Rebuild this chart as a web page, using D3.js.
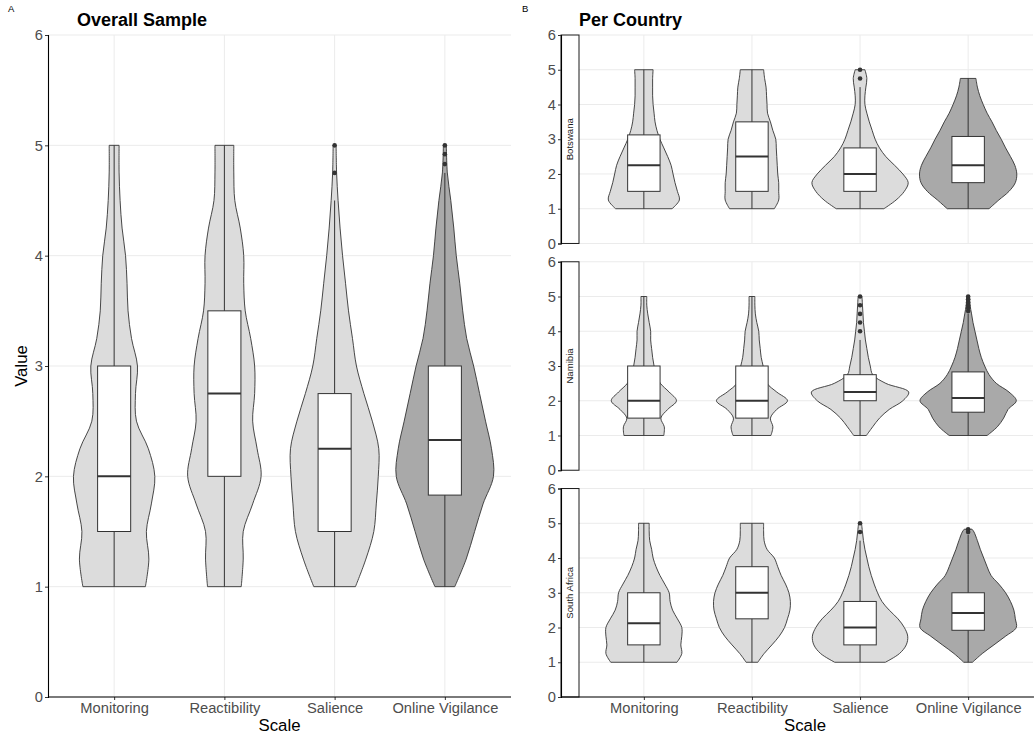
<!DOCTYPE html>
<html>
<head>
<meta charset="utf-8">
<script src="https://cdn.jsdelivr.net/npm/d3@7"></script>
<style>
  body { margin: 0; background: #fff; }
  svg { font-family: "Liberation Sans", Arial, sans-serif; }
</style>
</head>
<body>
<svg id="chart" width="1034" height="736"></svg>
<script>
const scales = ["Monitoring", "Reactibility", "Salience", "Online Vigilance"];
const countries = ["Botswana", "Namibia", "South Africa"];
const levels = [1, 1.25, 1.5, 1.75, 2, 2.25, 2.5, 2.75, 3, 3.25, 3.5, 3.75, 4, 4.25, 4.5, 4.75, 5];
const valueTicks = [0, 1, 2, 3, 4, 5, 6];

// relative violin width at each level (1 = widest violin in the panel)
const overallDensity = [
  [.63, .70, .65, .75, .82, .69, .45, .43, .47, .35, .28, .26, .23, .16, .12, .10, .10],
  [.34, .38, .38, .57, .74, .66, .57, .61, .61, .53, .42, .39, .39, .32, .21, .19, .19],
  [.42, .63, .79, .84, .88, .89, .76, .59, .44, .36, .28, .22, .16, .11, .07, .04, .03],
  [.20, .43, .60, .77, .98, .94, .82, .70, .58, .44, .36, .30, .23, .18, .12, .05, .03]
];
const botswanaDensity = [
  [.58, .73, .69, .64, .60, .56, .49, .41, .33, .27, .23, .21, .19, .18, .18, .18, .19],
  [.46, .55, .55, .55, .53, .52, .51, .50, .49, .43, .38, .32, .31, .30, .29, .26, .24],
  [.49, .74, .91, .99, .88, .71, .53, .40, .31, .25, .19, .14, .10, .10, .12, .14, .10],
  [.43, .63, .84, .97, 1.0, .96, .87, .77, .68, .58, .49, .39, .31, .24, .19, .16]
];
const namibiaDensity = [
  [.41, .42, .35, .49, .67, .52, .34, .25, .21, .18, .16, .14, .14, .11, .08, .06, .06],
  [.39, .43, .38, .51, .73, .51, .31, .26, .23, .19, .17, .15, .14, .10, .07, .06, .06],
  [.13, .26, .40, .60, .88, 1.0, .53, .26, .21, .17, .14, .11, .09, .07, .06, .05, .04],
  [.39, .60, .73, .82, .99, .84, .58, .43, .34, .27, .22, .18, .14, .10, .07, .04, .03]
];
const southAfricaDensity = [
  [.68, .78, .76, .78, .78, .69, .59, .54, .52, .43, .33, .25, .19, .16, .12, .11, .11],
  [.12, .25, .41, .56, .67, .73, .78, .79, .76, .69, .60, .53, .46, .31, .25, .24, .24],
  [.52, .81, .95, .98, .91, .78, .60, .45, .36, .29, .23, .18, .14, .10, .07, .05, .03],
  [.09, .29, .53, .77, .99, .97, .94, .87, .77, .63, .47, .39, .32, .25, .19, .12, .08]
];
// highest observed value per violin
const overallTop = [5, 5, 5, 5];
const botswanaTop = [5, 5, 5, 4.75];
const namibiaTop = [5, 5, 5, 5];
const southAfricaTop = [5, 5, 5, 4.83];

// [lower whisker, Q1, median, Q3, upper whisker]
const overallBox = [[1, 1.5, 2, 3, 5], [1, 2, 2.75, 3.5, 5], [1, 1.5, 2.25, 2.75, 4.5], [1, 1.83, 2.33, 3, 4.75]];
const botswanaBox = [[1, 1.5, 2.25, 3.125, 5], [1, 1.5, 2.5, 3.5, 5], [1, 1.5, 2, 2.75, 4.5], [1, 1.75, 2.25, 3.08, 4.75]];
const namibiaBox = [[1, 1.5, 2, 3, 5], [1, 1.5, 2, 3, 5], [1, 2, 2.25, 2.75, 3.75], [1, 1.67, 2.08, 2.83, 4.5]];
const southAfricaBox = [[1, 1.5, 2.125, 3, 5], [1, 2.25, 3, 3.75, 5], [1, 1.5, 2, 2.75, 4.5], [1, 1.92, 2.42, 3, 4.67]];

const overallOutliers = [[], [], [4.75, 5], [4.83, 4.92, 5]];
const botswanaOutliers = [[], [], [4.75, 5], []];
const namibiaOutliers = [[], [], [4, 4.25, 4.5, 4.75, 5], [4.58, 4.67, 4.75, 4.83, 4.92, 5]];
const southAfricaOutliers = [[], [], [4.75, 5], [4.75, 4.83]];

const violinFill = ["#dcdcdc", "#dcdcdc", "#dcdcdc", "#a9a9a9"];

const svg = d3.select("#chart");

function drawPanel(g, x, y, density, tops, box, outliers) {
  const step = x.step();
  const w = d3.scaleLinear().domain([0, 1]).range([0, step * 0.45]);
  const [x0, x1] = x.range();
  const [yb, yt] = y.range();

  // grid
  g.append("g").selectAll("line").data(valueTicks).join("line")
    .attr("x1", x0).attr("x2", x1)
    .attr("y1", d => y(d)).attr("y2", d => y(d))
    .attr("stroke", "#ebebeb").attr("stroke-width", 1);
  g.append("g").selectAll("line").data(scales).join("line")
    .attr("x1", d => x(d)).attr("x2", d => x(d))
    .attr("y1", yt).attr("y2", yb)
    .attr("stroke", "#ebebeb").attr("stroke-width", 1);

  scales.forEach((s, i) => {
    const cx = x(s);
    const pts = density[i].map((d, j) => ({ v: Math.min(levels[j], tops[i]), w: d }));
    const area = d3.area()
      .curve(d3.curveCatmullRom.alpha(0.5))
      .y(p => y(p.v))
      .x0(p => cx - w(p.w))
      .x1(p => cx + w(p.w));
    g.append("path").attr("d", area(pts))
      .attr("fill", violinFill[i]).attr("stroke", "#333").attr("stroke-width", 0.9);

    const [lo, q1, med, q3, hi] = box[i];
    const bw = step * 0.15;
    g.append("line").attr("x1", cx).attr("x2", cx)
      .attr("y1", y(lo)).attr("y2", y(hi))
      .attr("stroke", "#333").attr("stroke-width", 1);
    g.append("rect").attr("x", cx - bw).attr("width", bw * 2)
      .attr("y", y(q3)).attr("height", y(q1) - y(q3))
      .attr("fill", "#fff").attr("stroke", "#333").attr("stroke-width", 1);
    g.append("line").attr("x1", cx - bw).attr("x2", cx + bw)
      .attr("y1", y(med)).attr("y2", y(med))
      .attr("stroke", "#333").attr("stroke-width", 2);
    g.append("g").selectAll("circle").data(outliers[i]).join("circle")
      .attr("cx", cx).attr("cy", d => y(d)).attr("r", 2.3)
      .attr("fill", "#333");
  });
}

function yAxis(g, y, xPos) {
  g.append("g").attr("transform", `translate(${xPos},0)`)
    .call(d3.axisLeft(y).tickValues(valueTicks).tickSize(3).tickPadding(2).tickFormat(d3.format("d")))
    .call(a => a.select(".domain").attr("stroke", "#000").attr("stroke-width", 1.1))
    .call(a => a.selectAll(".tick line").attr("stroke", "#333"))
    .call(a => a.selectAll(".tick text").attr("fill", "#4d4d4d").style("font-size", "14.7px"));
}

function xAxis(g, x, yPos, lineStart, lineEnd) {
  g.append("g").attr("transform", `translate(0,${yPos})`)
    .call(d3.axisBottom(x).tickSize(3).tickPadding(3))
    .call(a => a.select(".domain").remove())
    .call(a => a.selectAll(".tick line").attr("stroke", "#333"))
    .call(a => a.selectAll(".tick text").attr("fill", "#4d4d4d").style("font-size", "14.7px"));
  g.append("line").attr("x1", lineStart).attr("x2", lineEnd)
    .attr("y1", yPos).attr("y2", yPos).attr("stroke", "#000").attr("stroke-width", 1.1);
}

// ---- Panel A ----
const plotTop = 35, plotBottom = 697;
const xA = d3.scalePoint().domain(scales).range([48, 511]).padding(0.6);
const yA = d3.scaleLinear().domain([0, 6]).range([plotBottom, plotTop]);
const gA = svg.append("g");
drawPanel(gA, xA, yA, overallDensity, overallTop, overallBox, overallOutliers);
xAxis(gA, xA, plotBottom, 48, 511);
yAxis(gA, yA, 48);

svg.append("text").attr("x", 8).attr("y", 12).text("A").style("font-size", "9.5px").attr("fill", "#000");
svg.append("text").attr("x", 77).attr("y", 26).text("Overall Sample")
  .style("font-size", "18px").style("font-weight", "bold");
svg.append("text").attr("transform", `translate(27,${(plotTop + plotBottom) / 2}) rotate(-90)`)
  .attr("text-anchor", "middle").text("Value").style("font-size", "16.8px");
svg.append("text").attr("x", (48 + 511) / 2).attr("y", 731)
  .attr("text-anchor", "middle").text("Scale").style("font-size", "16.8px");

// ---- Panel B ----
const stripX = 561, stripW = 18;
const xB = d3.scalePoint().domain(scales).range([stripX + stripW, 1033]).padding(0.6);
const gap = 18.3;
const rowH = (plotBottom - plotTop - gap * 2) / 3;
const rows = [
  [botswanaDensity, botswanaTop, botswanaBox, botswanaOutliers],
  [namibiaDensity, namibiaTop, namibiaBox, namibiaOutliers],
  [southAfricaDensity, southAfricaTop, southAfricaBox, southAfricaOutliers]
];
countries.forEach((c, r) => {
  const rt = plotTop + r * (rowH + gap);
  const yB = d3.scaleLinear().domain([0, 6]).range([rt + rowH, rt]);
  const gB = svg.append("g");
  drawPanel(gB, xB, yB, ...rows[r]);
  gB.append("rect").attr("x", stripX).attr("y", rt).attr("width", stripW).attr("height", rowH)
    .attr("fill", "#fff").attr("stroke", "#1a1a1a").attr("stroke-width", 1);
  gB.append("text")
    .attr("transform", `translate(${stripX + stripW / 2 + 3.3},${rt + rowH / 2}) rotate(-90)`)
    .attr("text-anchor", "middle").text(c).style("font-size", "9.6px").attr("fill", "#1a1a1a");
  yAxis(gB, yB, stripX);
  if (r === countries.length - 1) xAxis(gB, xB, rt + rowH, stripX, 1034);
});

svg.append("text").attr("x", 522).attr("y", 12).text("B").style("font-size", "9.5px").attr("fill", "#000");
svg.append("text").attr("x", 579).attr("y", 26).text("Per Country")
  .style("font-size", "18px").style("font-weight", "bold");
svg.append("text").attr("x", 805).attr("y", 731)
  .attr("text-anchor", "middle").text("Scale").style("font-size", "16.8px");
</script>
</body>
</html>
